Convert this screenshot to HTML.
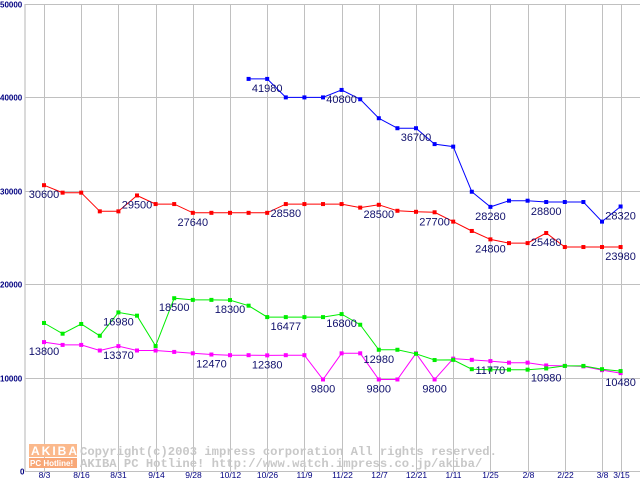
<!DOCTYPE html>
<html><head><meta charset="utf-8">
<style>
html,body{margin:0;padding:0;background:#fff;}
svg{display:block;font-family:"Liberation Sans",sans-serif;}
</style></head>
<body>
<svg id="chart" width="640" height="480" viewBox="0 0 640 480" xmlns="http://www.w3.org/2000/svg">
<g id="grid"></g>
<g id="watermark">
  <rect x="29" y="444" width="48" height="13" fill="#fbb98c"/>
  <text x="31" y="455" font-size="12" font-weight="bold" fill="#fff" letter-spacing="2">AKIBA</text>
  <rect x="29" y="458" width="48" height="10" fill="#f8a878"/>
  <text x="30" y="466" font-size="8" font-weight="bold" fill="#fff">PC Hotline!</text>
  <text x="80" y="455" font-size="12.2" fill="#c8c8c8" font-weight="bold" font-family="Liberation Mono, monospace">Copyright(c)2003 impress corporation All rights reserved.</text>
  <text x="80" y="467" font-size="12.2" fill="#c8c8c8" font-weight="bold" font-family="Liberation Mono, monospace">AKIBA PC Hotline!  http://www.watch.impress.co.jp/akiba/</text>
</g>
<g id="series"></g>
<g id="labels"></g>
</svg>
<script>
const xTickLabels = ["8/3","8/16","8/31","9/14","9/28","10/12","10/26","11/9","11/22","12/7","12/21","1/11","1/25","2/8","2/22","3/8","3/15"];
const xTickIndex = [0,2,4,6,8,10,12,14,16,18,20,22,24,26,28,30,31];
const yTicks = [0,10000,20000,30000,40000,50000];
const blueValues = [null,null,null,null,null,null,null,null,null,null,null,41980,41980,40000,40000,40000,40800,39800,37770,36700,36700,35000,34730,29900,28280,28940,28940,28800,28800,28800,26700,28320];
const redValues = [30600,29800,29800,27800,27800,29500,28580,28580,27640,27640,27640,27640,27640,28580,28580,28580,28580,28200,28500,27860,27750,27700,26700,25700,24800,24400,24400,25480,23980,23980,23980,23980];
const greenValues = [15850,14700,15740,14480,16980,16630,13380,18500,18320,18320,18300,17700,16477,16477,16477,16477,16800,15660,12980,12980,12550,11880,11900,10900,10850,10850,10850,10980,11250,11250,10900,10700];
const magentaValues = [13800,13500,13500,12900,13370,12900,12900,12750,12600,12470,12400,12400,12380,12400,12400,9800,12600,12600,9800,9800,12600,9800,12030,11900,11770,11600,11600,11300,11250,11200,10800,10480];
const blueLabelIdx = [12,16,20,24,27,31];
const redLabelIdx = [0,5,8,13,18,21,24,27,31];
const greenLabelIdx = [4,7,10,13,16,18,27];
const magentaLabelIdx = [0,4,9,12,15,18,21,24,31];

const NS="http://www.w3.org/2000/svg";
const X0=44, DX=18.6, Y0=471, YK=93.4/10000;
function xs(i){return X0+i*DX;}
function ys(v){return Y0-v*YK;}
function mk(tag,attrs,parent){const e=document.createElementNS(NS,tag);for(const k in attrs)e.setAttribute(k,attrs[k]);parent.appendChild(e);return e;}

const grid=document.getElementById('grid');
let ax=mk('line',{x1:25,y1:4,x2:25,y2:Y0,stroke:'#b4b4b4'},grid);


yTicks.forEach(v=>{
  const y=Math.round(ys(v))+0.5;
  const l=mk('line',{x1:25,y1:y,x2:640,y2:y,stroke:'#c0c0c0'},grid);
  
  
  const t=mk('text',{x:v===0?20:0,y:y+3,'font-size':8,'font-weight':'bold',fill:'#000080'},grid);
  t.textContent=String(v);
  
  
});
xTickIndex.forEach((ix,k)=>{
  const x=Math.round(xs(ix))+0.5;
  const l=mk('line',{x1:x,y1:4,x2:x,y2:Y0,stroke:'#c0c0c0'},grid);
  
  
  const t=mk('text',{x:x,y:478,'font-size':8.5,fill:'#000080','text-anchor':'middle'},grid);
  t.textContent=xTickLabels[k];
  
  
});

const layer=document.getElementById('series');
const labels=document.getElementById('labels');
function draw(vals,color,name,lblIdx){
  const g=mk('g',{},layer);
  
  
  let pts=[];
  vals.forEach((v,i)=>{if(v!==null)pts.push(xs(i).toFixed(1)+','+ys(v).toFixed(1));});
  const pl=mk('polyline',{points:pts.join(' '),fill:'none',stroke:color,'stroke-width':1},g);
  
  
  vals.forEach((v,i)=>{
    if(v===null)return;
    const r=mk('rect',{x:xs(i)-2,y:ys(v)-2,width:4,height:4,fill:color},g);
    
    
  });
  lblIdx.forEach(i=>{
    const t=mk('text',{x:xs(i),y:ys(vals[i])+13,'font-size':11,fill:'#10106c','text-anchor':'middle'},labels);
    t.textContent=String(vals[i]);
    
    
  });
}
draw(magentaValues,'#ff00ff','magenta',magentaLabelIdx);
draw(greenValues,'#00ee00','green',greenLabelIdx);
draw(redValues,'#ff0000','red',redLabelIdx);
draw(blueValues,'#0000ff','blue',blueLabelIdx);
</script>
</body></html>
